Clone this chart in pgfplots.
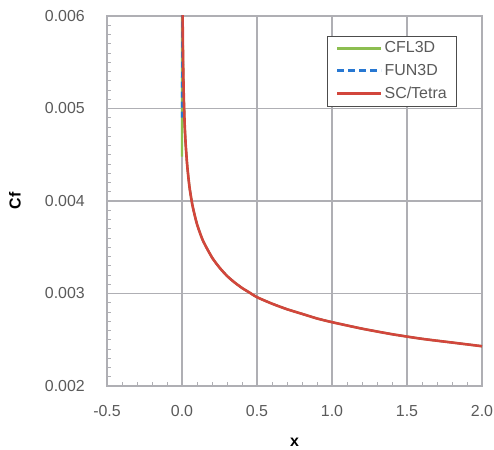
\documentclass[border=0pt]{standalone}
\usepackage{fontspec}
\setmainfont{Liberation Sans}
\usepackage{pgfplots}
\pgfplotsset{compat=1.18}
\definecolor{cflgreen}{RGB}{140,190,80}
\definecolor{funblue}{RGB}{40,120,210}
\definecolor{scred}{RGB}{210,70,60}
\definecolor{gridgray}{RGB}{175,175,180}
\definecolor{labgray}{RGB}{90,90,90}
\pgfplotstableread{
x y
0.0015 0.0066
0.003 0.00628
0.005 0.00582
0.008 0.00544
0.012 0.00512
0.018 0.00482
0.025 0.00460
0.035 0.00438
0.05 0.00415
0.07 0.00395
0.1 0.00375
0.14 0.00357
0.2 0.00339
0.25 0.00328
0.3 0.00319
0.35 0.00312
0.4 0.00306
0.45 0.00301
0.5 0.00296
0.6 0.00289
0.7 0.00283
0.8 0.00278
0.9 0.00273
1.0 0.00269
1.2 0.00262
1.4 0.00256
1.6 0.00251
1.8 0.00247
2.0 0.00243
}\sctetra
\pgfplotstableread{
x y
0.0 0.00448
0.0008 0.0066
0.003 0.00628
0.005 0.00582
0.008 0.00544
0.012 0.00512
0.018 0.00482
0.025 0.00460
0.035 0.00438
0.05 0.00415
0.07 0.00395
0.1 0.00375
0.14 0.00357
0.2 0.00339
0.25 0.00328
0.3 0.00319
0.35 0.00312
0.4 0.00306
0.45 0.00301
0.5 0.00296
0.6 0.00289
0.7 0.00283
0.8 0.00278
0.9 0.00273
1.0 0.00269
1.2 0.00262
1.4 0.00256
1.6 0.00251
1.8 0.00247
2.0 0.00243
}\cflthreed
\pgfplotstableread{
x y
-0.001 0.0049
0.0005 0.0066
0.003 0.00628
0.005 0.00582
0.008 0.00544
0.012 0.00512
0.018 0.00482
0.025 0.00460
0.035 0.00438
0.05 0.00415
0.07 0.00395
0.1 0.00375
0.14 0.00357
0.2 0.00339
0.25 0.00328
0.3 0.00319
0.35 0.00312
0.4 0.00306
0.45 0.00301
0.5 0.00296
0.6 0.00289
0.7 0.00283
0.8 0.00278
0.9 0.00273
1.0 0.00269
1.2 0.00262
1.4 0.00256
1.6 0.00251
1.8 0.00247
2.0 0.00243
}\funthreed
\begin{document}
\begin{tikzpicture}
\begin{axis}[
  scale only axis,
  width=375bp, height=370bp,
  xmin=-0.5, xmax=2.0, ymin=0.002, ymax=0.006,
  scaled y ticks=false, scaled x ticks=false,
  xtick={-0.5,0,0.5,1,1.5,2},
  ytick={0.002,0.003,0.004,0.005,0.006},
  xticklabels={-0.5,0.0,0.5,1.0,1.5,2.0},
  yticklabels={0.002,0.003,0.004,0.005,0.006},
  minor x tick num=4, minor y tick num=9,
  tick align=inside,
  xtick pos=bottom, ytick pos=left,
  major tick length=0pt, minor tick length=4bp,
  every minor tick/.style={gridgray, line width=0.6bp},
  grid=major,
  major grid style={gridgray, line width=1.4bp},
  axis line style={gridgray, line width=1.2bp},
  ticklabel style={font=\fontsize{16}{18}\selectfont, text=labgray, inner sep=0pt},
  /pgf/number format/assume math mode=true,
  xticklabel style={anchor=center, yshift=-25bp},
  yticklabel style={anchor=east, xshift=-22bp},
  xlabel={\textbf{x}}, ylabel={\textbf{Cf}},
  label style={font=\fontsize{16}{18}\selectfont, inner sep=0pt},
  xlabel style={at={(axis description cs:0.5,0)}, anchor=center, yshift=-56bp},
  ylabel style={at={(axis description cs:0,0.5)}, anchor=center, yshift=92bp},
  legend style={at={(0.933,0.947)}, anchor=north east, draw=black!70,
    font=\fontsize{16}{18}\selectfont, text=labgray, row sep=6bp, inner xsep=8bp, inner ysep=4bp},
  legend cell align=left,
]
\addlegendimage{cflgreen, legend image code/.code={\draw[cflgreen, line width=3bp] (0bp,0bp) -- (44bp,0bp);}}
\addlegendentry{CFL3D}
\addlegendimage{funblue, legend image code/.code={\draw[funblue, line width=2.6bp, dash pattern=on 7bp off 4bp] (0bp,0bp) -- (44bp,0bp);}}
\addlegendentry{FUN3D}
\addlegendimage{scred, legend image code/.code={\draw[scred, line width=3bp] (0bp,0bp) -- (44bp,0bp);}}
\addlegendentry{SC/Tetra}
\addplot[forget plot, cflgreen, line width=2.2bp, smooth, tension=0.3] table[x=x,y=y] {\cflthreed};
\addplot[forget plot, funblue, line width=1.8bp, dash pattern=on 6bp off 4bp, smooth, tension=0.3] table[x=x,y=y] {\funthreed};
\addplot[forget plot, scred, line width=2.6bp, smooth, tension=0.4] table[x=x,y=y] {\sctetra};
\end{axis}
\path (-107bp,-64bp) rectangle (387bp,386bp);
\end{tikzpicture}
\end{document}
